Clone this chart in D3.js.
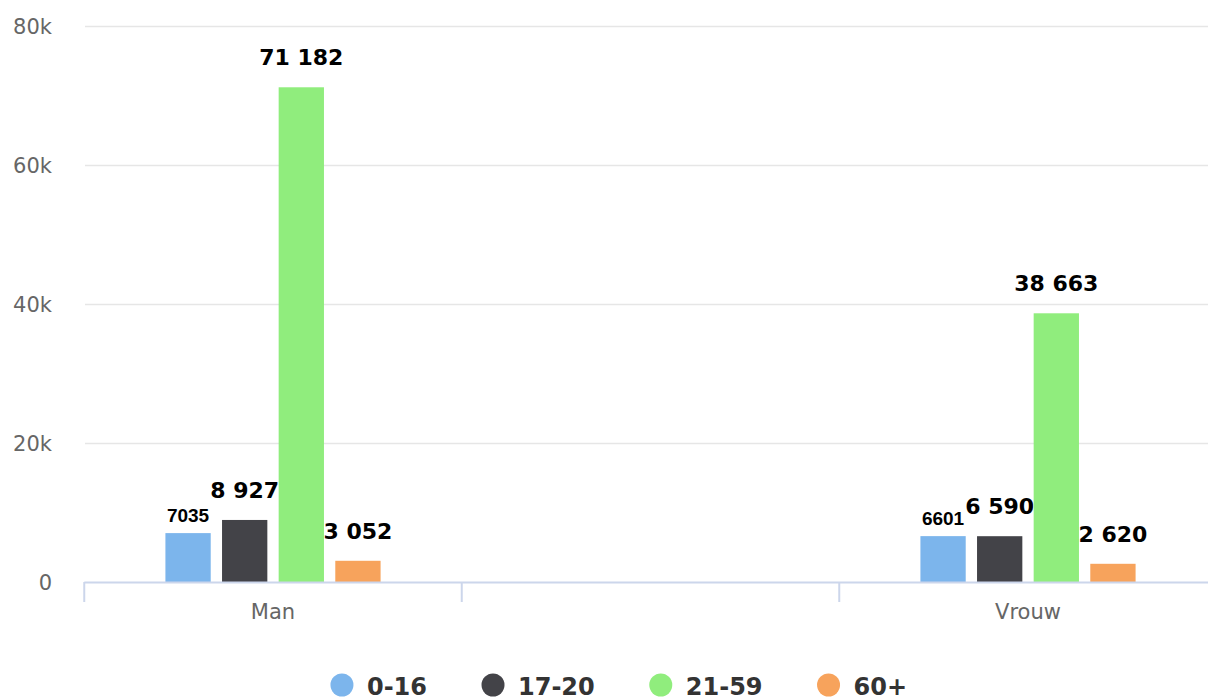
<!DOCTYPE html>
<html>
<head>
<meta charset="utf-8">
<script src="https://cdn.jsdelivr.net/npm/d3@7"></script>
<style>
  html, body { margin: 0; padding: 0; background: #fff; }
  svg { display: block; }
</style>
</head>
<body>
<svg id="chart" width="1208" height="697"></svg>
<script>
// ---- data ----
const categories = ["Man", "", "Vrouw"];
const seriesNames = ["0-16", "17-20", "21-59", "60+"];
const seriesColors = ["#7cb5ec", "#434348", "#90ed7d", "#f7a35c"];
const values_0_16 = [7035, null, 6601];
const values_17_20 = [8927, null, 6590];
const values_21_59 = [71182, null, 38663];
const values_60plus = [3052, null, 2620];
const yTicks = [0, 20000, 40000, 60000, 80000];
const yTickLabels = ["0", "20k", "40k", "60k", "80k"];

const seriesValues = [values_0_16, values_17_20, values_21_59, values_60plus];

const svg = d3.select("#chart");
const plotLeft = 84.25, plotRight = 1216.75, plotTop = 26, plotBottom = 582;

const x0 = d3.scaleBand().domain(categories.map((c, i) => i)).range([plotLeft, plotRight]).paddingInner(0).paddingOuter(0);
const bw = x0.bandwidth();
const x1 = d3.scaleBand().domain(seriesNames).range([0.2 * bw, 0.8 * bw]).paddingInner(0.2).paddingOuter(0.1);
const y = d3.scaleLinear().domain([0, 80000]).range([plotBottom, plotTop]);

// gridlines
svg.append("g").selectAll("line").data(yTicks.filter(t => t > 0)).join("line")
  .attr("x1", plotLeft + 0.75).attr("x2", 1208)
  .attr("y1", d => Math.round(y(d)) + 0.5).attr("y2", d => Math.round(y(d)) + 0.5)
  .attr("stroke", "#e6e6e6").attr("stroke-width", 1.5);

// y labels
svg.append("g").selectAll("text").data(yTicks).join("text")
  .attr("x", 52).attr("y", d => y(d) + 7.5)
  .attr("text-anchor", "end")
  .attr("font-family", "DejaVu Sans, sans-serif").attr("font-size", 21)
  .attr("fill", "#666")
  .text((d, i) => yTickLabels[i]);

// bars
const fmt = d3.format(",");
seriesValues.forEach((vals, si) => {
  const g = svg.append("g");
  const pts = vals.map((v, ci) => ({ v, ci })).filter(d => d.v != null);
  g.selectAll("rect").data(pts).join("rect")
    .attr("x", d => x0(d.ci) + x1(seriesNames[si]))
    .attr("width", x1.bandwidth())
    .attr("y", d => y(d.v))
    .attr("height", d => y(0) - y(d.v))
    .attr("fill", seriesColors[si]);
  g.selectAll("text").data(pts).join("text")
    .attr("x", d => x0(d.ci) + x1(seriesNames[si]) + x1.bandwidth() / 2)
    .attr("y", d => y(d.v) - (si === 0 ? 11 : 22))
    .attr("text-anchor", "middle")
    .attr("font-family", si === 0 ? "Liberation Sans, Arial, sans-serif" : "DejaVu Sans, sans-serif")
    .attr("font-weight", "bold")
    .attr("font-size", si === 0 ? 19 : 22)
    .attr("fill", "#000")
    .text(d => si === 0 ? String(d.v) : fmt(d.v).replace(/,/g, " "));
});

// x axis line
svg.append("line")
  .attr("x1", plotLeft).attr("x2", 1208)
  .attr("y1", plotBottom + 0.5).attr("y2", plotBottom + 0.5)
  .attr("stroke", "#ccd6eb").attr("stroke-width", 2);
// ticks at category boundaries
const boundaries = categories.map((c, i) => x0(i)).concat([plotRight]);
svg.append("g").selectAll("line").data(boundaries).join("line")
  .attr("x1", d => d).attr("x2", d => d)
  .attr("y1", plotBottom).attr("y2", plotBottom + 20)
  .attr("stroke", "#ccd6eb").attr("stroke-width", 2);
// category labels
svg.append("g").selectAll("text").data(categories.map((c, i) => ({ c, i }))).join("text")
  .attr("x", d => x0(d.i) + bw / 2).attr("y", 619)
  .attr("text-anchor", "middle")
  .attr("font-family", "DejaVu Sans, sans-serif").attr("font-size", 21)
  .attr("fill", "#666")
  .text(d => d.c);

// legend
const legend = svg.append("g");
const items = seriesNames.map((name, i) => {
  const g = legend.append("g");
  g.append("circle").attr("cx", 11).attr("cy", 0).attr("r", 11.5).attr("fill", seriesColors[i]);
  const t = g.append("text").attr("x", 36).attr("y", 10)
    .attr("font-family", "DejaVu Sans, sans-serif").attr("font-weight", "bold")
    .attr("font-size", 24).attr("fill", "#333").text(name);
  return { g, w: 36 + t.node().getComputedTextLength() };
});
const gap = 55;
const total = d3.sum(items, d => d.w) + gap * (items.length - 1);
let cx = 619 - total / 2;
items.forEach(it => { it.g.attr("transform", `translate(${cx},685)`); cx += it.w + gap; });
</script>
</body>
</html>
